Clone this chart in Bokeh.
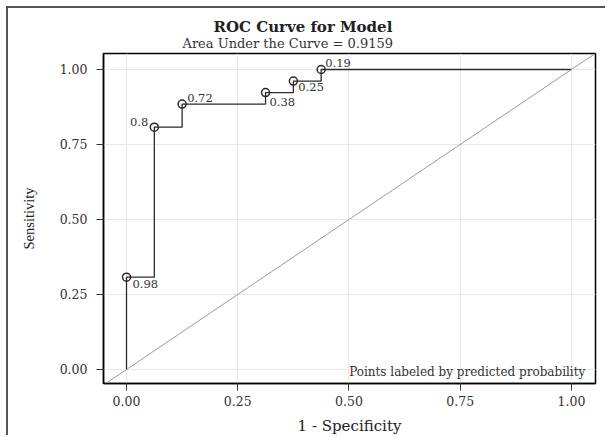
from bokeh.plotting import figure
from bokeh.models import Label, Range1d, FixedTicker, Slope, ColumnDataSource, Title
from bokeh.embed import file_html
from bokeh.resources import INLINE
from bokeh.core.properties import value

# ROC data (1 - specificity, sensitivity), predicted-probability labels
fpr = [0.0, 0.0, 0.0625, 0.125, 0.3125, 0.375, 0.4375, 1.0]
tpr = [0.0, 0.3077, 0.8077, 0.8846, 0.9231, 0.9615, 1.0, 1.0]
point_fpr = [0.0, 0.0625, 0.125, 0.3125, 0.375, 0.4375]
point_tpr = [0.3077, 0.8077, 0.8846, 0.9231, 0.9615, 1.0]
point_labels = ["0.98", "0.8", "0.72", "0.38", "0.25", "0.19"]
ticks = [0.0, 0.25, 0.5, 0.75, 1.0]
tick_labels = ["0.00", "0.25", "0.50", "0.75", "1.00"]
auc = 0.9159

# label placement styles (pixels)
lbl_xoff = [6, -6, 5, 4, 5, 4]
lbl_yoff = [7, -5, -6, 9, 6, -6]
lbl_align = ["left", "right", "left", "left", "left", "left"]

SERIF = "Liberation Serif"
WIDE = "DejaVu Serif"

p = figure(width=599, height=429, output_backend="svg", toolbar_location=None,
           x_range=Range1d(-0.0517, 1.054), y_range=Range1d(-0.0467, 1.0533),
           min_border_left=95, min_border_right=12, min_border_top=45, min_border_bottom=54)
p.styles = {"margin-left": "6px", "margin-top": "6px",
            "border-left": "2px solid #555555", "border-top": "2px solid #555555"}

p.outline_line_color = "black"
p.outline_line_width = 1.5
p.background_fill_color = "white"
p.border_fill_color = "white"

for ax in (p.xaxis[0], p.yaxis[0]):
    ax.ticker = FixedTicker(ticks=ticks)
    ax.major_label_overrides = {t: l for t, l in zip(ticks, tick_labels)}
    ax.axis_line_color = "black"
    ax.axis_line_width = 1.5
    ax.major_tick_line_color = "#333333"
    ax.major_tick_out = 7
    ax.major_tick_in = 0
    ax.minor_tick_line_color = None
    ax.major_label_text_font = WIDE
    ax.major_label_text_font_size = "12.5px"
    ax.major_label_text_color = "#333333"
    ax.axis_label_text_font_style = "normal"
    ax.axis_label_text_color = "#222222"

p.xaxis.axis_label = "1 - Specificity"
p.xaxis.axis_label_text_font = WIDE
p.xaxis.axis_label_text_font_size = "15px"
p.xaxis.major_label_standoff = 5
p.xaxis.axis_label_standoff = 8
p.yaxis.axis_label = "Sensitivity"
p.yaxis.axis_label_text_font = SERIF
p.yaxis.axis_label_text_font_size = "14.5px"
p.yaxis.major_label_standoff = 9
p.yaxis.axis_label_standoff = 20

p.xgrid.ticker = FixedTicker(ticks=ticks)
p.ygrid.ticker = FixedTicker(ticks=ticks)
p.grid.grid_line_color = "#e8e8e8"
p.grid.grid_line_width = 1

# diagonal reference line
p.add_layout(Slope(gradient=1, y_intercept=0, line_color="#9a9a9a", line_width=1))

# ROC step curve
p.step(fpr, tpr, mode="after", line_color="#2a2a2a", line_width=1.3)

src = ColumnDataSource(dict(x=point_fpr, y=point_tpr, t=point_labels,
                            xo=lbl_xoff, yo=lbl_yoff, al=lbl_align))
p.scatter("x", "y", source=src, marker="circle", size=8, fill_alpha=0,
          line_color="#2a2a2a", line_width=1.5)
p.text("x", "y", text="t", source=src, x_offset="xo", y_offset="yo", text_align="al",
       text_baseline="middle", text_font=value(WIDE), text_font_size="11.5px",
       text_color="#333333")

# titles (subtitle added first -> closest to frame)
p.add_layout(Title(text="Area Under the Curve = %.4f" % auc, align="left", offset=79,
                   standoff=6, text_font=WIDE, text_font_size="13px",
                   text_font_style="normal", text_color="#333333"), "above")
p.add_layout(Title(text="ROC Curve for Model", align="left", offset=110,
                   standoff=-11, text_font=WIDE, text_font_size="15px",
                   text_font_style="bold", text_color="#222222"), "above")

p.add_layout(Label(x=1.031, y=-0.01, text="Points labeled by predicted probability",
                   text_align="right", text_baseline="middle", text_font=WIDE,
                   text_font_size="12px", text_color="#333333"))

open("out.html", "w").write(file_html(p, INLINE))
